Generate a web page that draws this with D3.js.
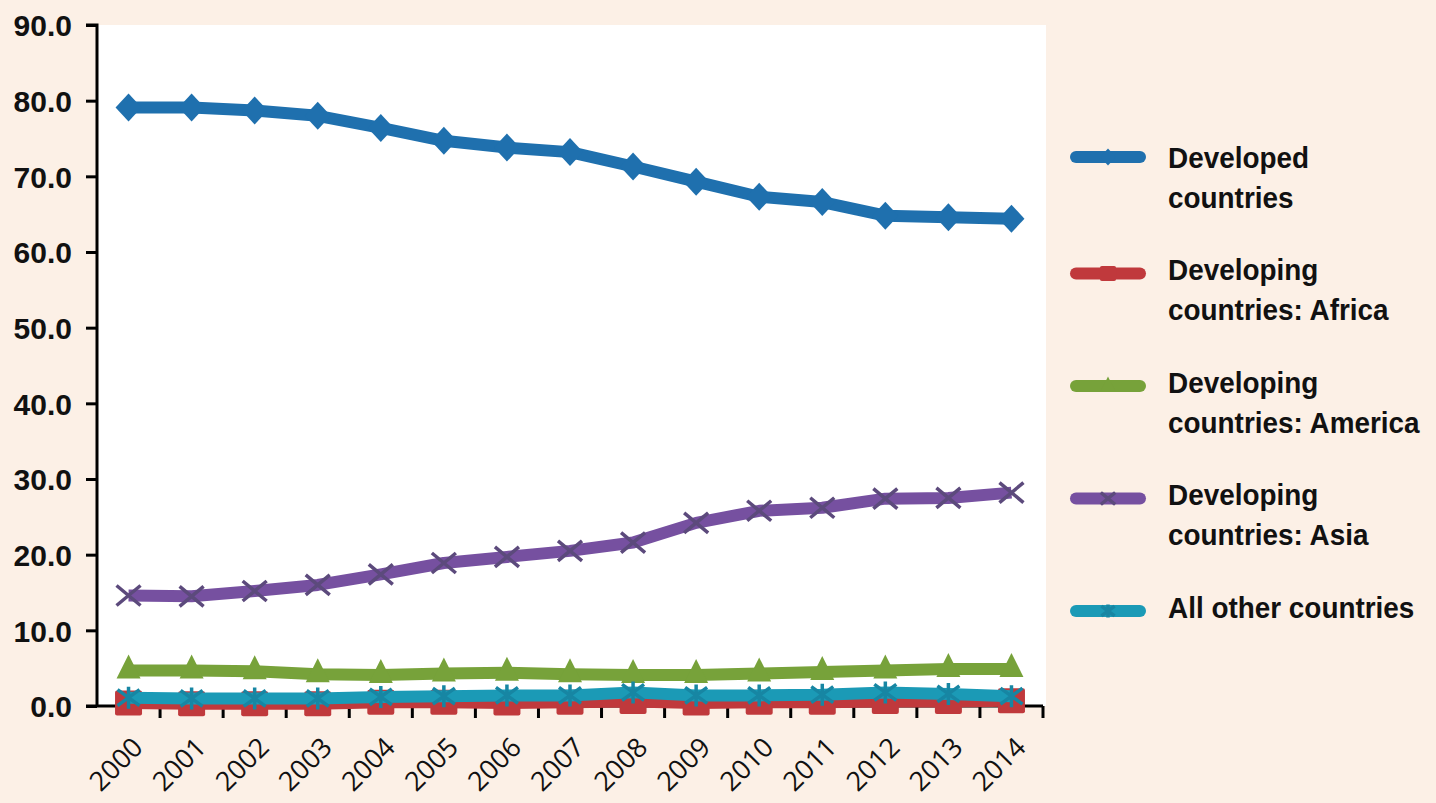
<!DOCTYPE html>
<html>
<head>
<meta charset="utf-8">
<script src="https://cdn.jsdelivr.net/npm/d3@7"></script>
<style>
html,body{margin:0;padding:0;background:#fcf0e6;}
svg{display:block;}
</style>
</head>
<body>
<svg id="chart" width="1436" height="803"></svg>
<script>
const years = ["2000","2001","2002","2003","2004","2005","2006","2007","2008","2009","2010","2011","2012","2013","2014"];
const yTicks = [0,10,20,30,40,50,60,70,80,90];
const developed = [79.1,79.1,78.7,78.0,76.4,74.7,73.8,73.2,71.3,69.3,67.3,66.6,64.8,64.6,64.4];
const africa    = [0.4,0.3,0.3,0.3,0.5,0.5,0.4,0.5,0.6,0.4,0.5,0.5,0.6,0.6,0.7];
const america   = [4.7,4.7,4.6,4.2,4.1,4.3,4.4,4.2,4.1,4.1,4.3,4.5,4.7,4.9,4.9];
const asia      = [14.6,14.5,15.2,16.0,17.4,18.9,19.7,20.5,21.6,24.2,25.8,26.2,27.4,27.5,28.2];
const other     = [1.1,1.0,1.0,1.0,1.2,1.3,1.4,1.4,1.8,1.4,1.4,1.5,1.8,1.6,1.3];
const seriesNames = [["Developed","countries"],["Developing","countries: Africa"],["Developing","countries: America"],["Developing","countries: Asia"],["All other countries"]];

const series = [
  {values: developed, color:"#1f70ae", mark:"#1f70ae", shape:"diamond"},
  {values: africa,    color:"#c0393c", mark:"#c0393c", shape:"square"},
  {values: america,   color:"#77a23a", mark:"#77a23a", shape:"triangle"},
  {values: asia,      color:"#7650a0", mark:"#5c4a7c", shape:"x"},
  {values: other,     color:"#1b9ab6", mark:"#1786a3", shape:"star"}
];

const svg = d3.select("#chart");
const pLeft = 97, pRight = 1043, pTop = 25, pBottom = 706;

const x = d3.scaleBand().domain(years).range([pLeft, pRight]).padding(0);
const y = d3.scaleLinear().domain([0, 90]).range([pBottom, pTop]);
const cx = d => x(d) + x.bandwidth()/2;

svg.append("rect").attr("x", pLeft).attr("y", pTop).attr("width", pRight - pLeft + 3).attr("height", pBottom - pTop).attr("fill", "#ffffff");

function drawMarker(g, shape, px, py, color, s) {
  s = s || 1;
  if (shape === "diamond") {
    g.append("path").attr("d", `M${px},${py-14*s}L${px+13*s},${py}L${px},${py+14*s}L${px-13*s},${py}Z`).attr("fill", color);
  } else if (shape === "square") {
    g.append("rect").attr("x", px-13.5*s).attr("y", py-12.5*s).attr("width", 27*s).attr("height", 25*s).attr("rx",2).attr("fill", color);
  } else if (shape === "triangle") {
    g.append("path").attr("d", `M${px},${py-16*s}L${px+12*s},${py+8*s}L${px-12*s},${py+8*s}Z`).attr("fill", color);
  } else if (shape === "x") {
    g.append("path").attr("d", `M${px-12*s},${py-10*s}L${px+12*s},${py+10*s}M${px-12*s},${py+10*s}L${px+12*s},${py-10*s}`)
      .attr("stroke", color).attr("stroke-width", 3.5).attr("fill","none");
  } else if (shape === "star") {
    g.append("path").attr("d", `M${px-11*s},${py-8*s}L${px+11*s},${py+8*s}M${px-11*s},${py+8*s}L${px+11*s},${py-8*s}M${px},${py-11*s}L${px},${py+11*s}`)
      .attr("stroke", color).attr("stroke-width", 3.5).attr("fill","none");
  }
}

// Y axis
const yAxis = d3.axisLeft(y).tickValues(yTicks).tickFormat(d3.format(".1f")).tickSize(11).tickPadding(14);
const gy = svg.append("g").attr("transform", `translate(${pLeft},0)`).call(yAxis);
gy.select(".domain").attr("stroke","#000").attr("stroke-width",3).attr("d", `M-11,${pTop}H0V${pBottom}`);
gy.selectAll(".tick line").attr("stroke","#000").attr("stroke-width",3);
gy.selectAll(".tick text").attr("fill","#111").style("font-family","'Liberation Sans', Arial, sans-serif")
  .style("font-weight","bold").style("font-size","30px").attr("dy","0.36em");

// X axis
const gx = svg.append("g").attr("transform", `translate(0,${pBottom})`);
gx.append("line").attr("x1", pLeft - 11).attr("x2", pRight).attr("y1",0).attr("y2",0).attr("stroke","#000").attr("stroke-width",3);
gx.selectAll("line.tk").data(years).enter().append("line").attr("class","tk")
  .attr("x1", d => x(d) + x.bandwidth()).attr("x2", d => x(d) + x.bandwidth())
  .attr("y1", 0).attr("y2", 12).attr("stroke","#000").attr("stroke-width",3);
gx.selectAll("text").data(years).enter().append("text")
  .attr("transform", d => `translate(${cx(d)+16},${43}) rotate(-45)`)
  .attr("text-anchor","end")
  .style("font-family","'Open Sans', sans-serif").style("font-size","27px").attr("fill","#111")
  .text(d => d);

// Series (drawn over the axes)
const line = d3.line().x((d,i) => cx(years[i])).y(d => y(d));
const plot = svg.append("g");
series.forEach(s => {
  const g = plot.append("g");
  g.append("path").datum(s.values).attr("d", line).attr("fill","none")
    .attr("stroke", s.color).attr("stroke-width", 12).attr("stroke-linejoin","round");
  s.values.forEach((v,i) => drawMarker(g, s.shape, cx(years[i]), y(v), s.mark));
});

// Legend
const lg = svg.append("g");
series.forEach((s,i) => {
  const ly = 157 + i*112.5;
  const sy = ly + (i === 0 ? 0 : 4);
  lg.append("line").attr("x1",1076).attr("x2",1140).attr("y1",sy).attr("y2",sy)
    .attr("stroke", s.color).attr("stroke-width",12).attr("stroke-linecap","round");
  drawMarker(lg, s.shape, 1108, sy, s.mark, 0.6);
  const t = lg.append("text").attr("transform", `translate(1168,${ly}) scale(0.93,1)`)
    .style("font-family","'Liberation Sans', Arial, sans-serif")
    .style("font-weight","bold").style("font-size","30px").attr("fill","#111");
  seriesNames[i].forEach((ln,j) => {
    t.append("tspan").attr("x",0).attr("dy", j === 0 ? "0.36em" : "40px").text(ln);
  });
});
</script>
</body>
</html>
